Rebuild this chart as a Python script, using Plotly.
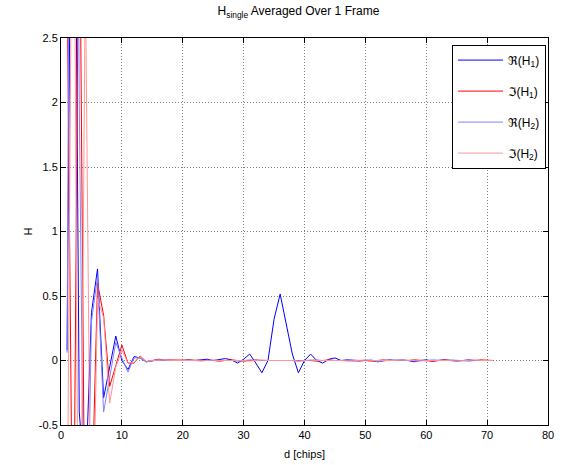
import plotly.graph_objects as go

d = list(range(1, 72))

re_h1 = [0.08, 6.0, -0.4, -1.0, 0.37, 0.71, -0.29, -0.05, 0.19, 0.0,
         -0.07, 0.03, 0.02, -0.01, 0.0, 0.005, 0.0, 0.0, -0.005, 0.0,
         0.005, 0.0, 0.005, 0.01, 0.0, 0.005, 0.015, 0.005, -0.02, 0.01,
         0.05, -0.02, -0.095, 0.0, 0.32, 0.515, 0.29, 0.05, -0.095, 0.0,
         0.05, 0.0, -0.02, 0.01, 0.02, 0.0, 0.005, 0.0, 0.0, 0.0,
         0.0, -0.01, -0.005, 0.005, 0.0, 0.005, 0.0, -0.01, 0.0, 0.005,
         -0.005, 0.0, 0.005, 0.0, -0.005, 0.0, 0.005, 0.0, 0.0, 0.005,
         0.0]

im_h1 = [3.0, -2.0, 4.0, -2.0, -1.23, 0.6, 0.35, -0.2, -0.04, 0.12,
         -0.02, -0.02, 0.035, -0.01, 0.0, 0.01, 0.005, 0.005, 0.0, 0.0,
         0.005, 0.0, 0.0, 0.005, 0.0, -0.005, 0.0, 0.005, 0.0, -0.005,
         0.0, 0.005, 0.0, 0.0, 0.005, 0.0, 0.005, 0.0, 0.0, 0.005,
         0.0, -0.005, 0.0, 0.005, 0.0, 0.0, 0.005, 0.0, -0.005, 0.0,
         -0.005, 0.0, 0.005, 0.0, 0.0, -0.005, 0.0, 0.005, 0.0, 0.0,
         -0.005, 0.0, 0.005, 0.0, 0.0, -0.005, 0.0, 0.0, 0.005, 0.0,
         0.0]

re_h2 = [0.06, 10.0, 2.0, -2.4, 0.3, 0.65, -0.40, -0.12, 0.14, 0.02,
         -0.09, 0.02, 0.02, -0.01, 0.0, 0.005, 0.0, 0.0, 0.0, 0.005,
         0.0, 0.0, 0.005, 0.0, 0.0, 0.005, 0.0, 0.0, -0.005, 0.0,
         0.005, 0.0, 0.0, 0.005, 0.0, 0.0, 0.005, 0.0, -0.005, 0.0,
         0.0, 0.005, 0.0, 0.0, 0.005, 0.0, 0.0, -0.005, 0.0, 0.0,
         0.005, -0.01, 0.0, 0.0, 0.005, 0.0, 0.0, -0.005, 0.0, 0.0,
         0.005, 0.0, 0.0, 0.005, 0.0, 0.0, -0.005, 0.0, 0.0, 0.0,
         0.0]

im_h2 = [-1.5, 5.0, -3.0, 3.0, -2.0, 0.48, 0.33, -0.33, -0.05, 0.08,
         -0.02, -0.015, 0.03, -0.005, 0.0, 0.005, 0.005, 0.0, 0.0, 0.005,
         0.0, 0.0, -0.005, 0.0, 0.005, 0.0, 0.0, 0.005, 0.0, 0.0,
         -0.005, 0.0, 0.005, 0.0, 0.0, 0.005, 0.0, 0.0, -0.005, 0.0,
         0.005, 0.0, 0.0, 0.005, 0.0, 0.0, -0.005, 0.0, 0.0, 0.005,
         0.0, 0.0, -0.005, 0.0, 0.0, 0.005, 0.0, 0.0, -0.005, 0.0,
         0.0, 0.005, 0.0, 0.0, -0.005, 0.0, 0.0, 0.005, 0.0, 0.0,
         0.0]

x_ticks = [0, 10, 20, 30, 40, 50, 60, 70, 80]
y_ticks = [-0.5, 0, 0.5, 1, 1.5, 2, 2.5]
y_tick_text = ["-0.5", "0", "0.5", "1", "1.5", "2", "2.5"]

series = [
    ("ℜ(H<sub>1</sub>)", re_h1, "rgb(0,0,255)"),
    ("ℑ(H<sub>1</sub>)", im_h1, "rgb(255,0,0)"),
    ("ℜ(H<sub>2</sub>)", re_h2, "rgb(130,130,255)"),
    ("ℑ(H<sub>2</sub>)", im_h2, "rgb(255,150,150)"),
]

fig = go.Figure()
for i, (name, vals, col) in enumerate(series):
    fig.add_trace(go.Scatter(x=d, y=vals, mode="lines", name=name,
                             legendgroup=str(i),
                             line=dict(color=col, width=1)))

font = "Arial, Liberation Sans, DejaVu Sans, sans-serif"
axis_common = dict(showline=True, linecolor="black", linewidth=1, mirror="ticks",
                   ticks="inside", ticklen=5, tickcolor="black",
                   showgrid=True, gridcolor="rgba(0,0,0,0.5)", griddash="1px,2px",
                   gridwidth=1, zeroline=False, automargin=False,
                   tickfont=dict(family=font, size=11, color="black"))

fig.update_xaxes(range=[0, 80], tickvals=x_ticks,
                 title=dict(text="d [chips]", font=dict(family=font, size=11, color="black"), standoff=10),
                 **axis_common)
fig.update_yaxes(range=[-0.5, 2.5], tickvals=y_ticks, ticktext=y_tick_text,
                 title=dict(text="H", font=dict(family=font, size=11, color="black"), standoff=3),
                 **axis_common)

fig.update_layout(
    width=561, height=465,
    margin=dict(l=61, r=13, t=38, b=40),
    paper_bgcolor="white", plot_bgcolor="white",
    title=dict(text="H<sub>single</sub> Averaged Over 1 Frame", x=0.532, xanchor="center",
               y=0.985, yanchor="top",
               font=dict(family=font, size=12, color="black")),
    legend=dict(x=0.996, xanchor="right", y=0.983, yanchor="top",
                bgcolor="white", bordercolor="black", borderwidth=1,
                tracegroupgap=12, itemwidth=45,
                font=dict(family=font, size=12, color="black")),
    font=dict(family=font, size=11, color="black"),
)

fig.write_html("out.html")
